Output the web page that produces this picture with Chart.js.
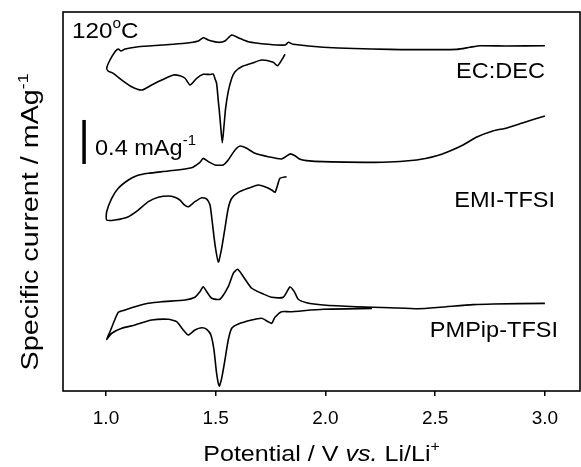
<!DOCTYPE html>
<html>
<head>
<meta charset="utf-8">
<script src="https://cdn.jsdelivr.net/npm/chart.js@4.4.0/dist/chart.umd.min.js"></script>
<style>
  html, body { margin: 0; padding: 0; background: #fff; }
  #wrap { width: 581px; height: 467px; }
</style>
</head>
<body>
<div id="wrap"><canvas id="cv" width="581" height="467"></canvas></div>
<script>
// tick labels of the potential axis
var xTicks = [1.0, 1.5, 2.0, 2.5, 3.0];

// EC:DEC  (reduction sweep from ~1.82 V down to 1.0 V, then oxidation to 3.0 V)
var ecV = [1.816,1.782,1.762,1.709,1.664,1.618,1.588,1.573,1.557,1.545,1.538,1.530,1.522,1.516,1.512,1.504,1.497,1.489,1.474,1.443,1.413,1.383,1.360,1.337,1.307,1.254,1.208,1.163,1.117,1.072,1.033,1.010,1.003,
           1.018,1.041,1.056,1.068,1.087,1.147,1.254,1.360,1.421,1.443,1.466,1.512,1.542,1.573,1.603,1.648,1.739,1.816,1.831,1.853,1.990,2.294,2.598,2.658,2.704,2.826,3.000];
var ecI = [3.061,2.957,2.988,3.009,2.979,2.948,2.903,2.843,2.721,2.570,2.418,2.257,2.418,2.555,2.630,2.797,2.836,2.882,2.877,2.879,2.843,2.782,2.843,2.866,2.873,2.827,2.782,2.736,2.766,2.827,2.888,2.909,2.934,
           3.009,3.085,3.109,3.091,3.109,3.130,3.145,3.161,3.182,3.212,3.191,3.170,3.182,3.236,3.212,3.175,3.152,3.145,3.170,3.152,3.125,3.106,3.106,3.125,3.139,3.136,3.139];

// EMI-TFSI
var emV = [1.823,1.793,1.782,1.770,1.755,1.724,1.694,1.648,1.603,1.573,1.557,1.542,1.527,1.512,1.497,1.484,1.474,1.459,1.436,1.405,1.375,1.357,1.337,1.314,1.284,1.238,1.193,1.147,1.102,1.041,1.003,
           1.003,1.026,1.056,1.102,1.140,1.193,1.284,1.390,1.428,1.443,1.466,1.497,1.534,1.557,1.588,1.611,1.641,1.679,1.739,1.800,1.838,1.861,1.884,1.914,1.990,2.263,2.416,2.503,2.567,2.627,2.690,2.763,2.827,2.901,3.000];
var emI = [1.948,1.934,1.873,1.806,1.827,1.857,1.873,1.843,1.806,1.752,1.661,1.479,1.297,1.173,1.327,1.539,1.691,1.745,1.757,1.721,1.675,1.691,1.736,1.761,1.773,1.761,1.721,1.645,1.585,1.555,1.555,
           1.630,1.752,1.843,1.918,1.957,1.979,2.000,2.030,2.079,2.115,2.085,2.055,2.055,2.100,2.191,2.227,2.206,2.161,2.130,2.109,2.155,2.139,2.106,2.094,2.085,2.079,2.100,2.136,2.182,2.236,2.309,2.364,2.391,2.439,2.500];

// PMPip-TFSI
var pmV = [2.212,1.990,1.838,1.800,1.770,1.755,1.739,1.709,1.664,1.603,1.573,1.557,1.542,1.527,1.516,1.504,1.492,1.478,1.459,1.436,1.405,1.375,1.352,1.322,1.284,1.208,1.132,1.072,1.026,1.003,
           1.018,1.041,1.056,1.087,1.132,1.193,1.254,1.360,1.405,1.428,1.443,1.459,1.482,1.519,1.557,1.580,1.600,1.626,1.664,1.717,1.755,1.808,1.838,1.858,1.876,1.914,1.990,2.142,2.294,2.423,2.522,2.673,2.765,3.000];
var pmI = [0.750,0.743,0.721,0.721,0.670,0.615,0.630,0.661,0.645,0.609,0.570,0.464,0.282,0.115,0.045,0.161,0.373,0.509,0.561,0.575,0.555,0.509,0.555,0.630,0.652,0.645,0.600,0.570,0.525,0.470,
           0.539,0.652,0.715,0.736,0.766,0.797,0.812,0.827,0.852,0.903,0.948,0.903,0.843,0.834,0.948,1.070,1.106,1.039,0.934,0.882,0.852,0.852,0.945,0.903,0.834,0.803,0.782,0.766,0.757,0.748,0.761,0.785,0.791,0.797];

// 0.4 mAg-1 scale bar
var barV = [0.90, 0.90];
var barI = [2.064, 2.464];

var FONT = '"Liberation Sans", Arial, Helvetica, sans-serif';

function pts(v, c) {
  return v.map(function (x, i) { return { x: x, y: c[i] }; });
}

function fontFor(p, size) {
  return (p.it ? 'italic ' : '') + Math.round(p.sup ? size * 0.62 : size) + 'px ' + FONT;
}

// draws text made of parts, some italic or raised; st = horizontal stretch
function richText(ctx, parts, x, y, align, size, st) {
  st = st || 1;
  var w = 0;
  parts.forEach(function (p) {
    ctx.font = fontFor(p, size);
    p.w = ctx.measureText(p.t).width;
    w += p.w;
  });
  var sx = align === 'right' ? -w : (align === 'center' ? -w / 2 : 0);
  ctx.save();
  ctx.translate(x, y);
  ctx.scale(st, 1);
  parts.forEach(function (p) {
    ctx.font = fontFor(p, size);
    ctx.fillText(p.t, sx, p.sup ? -size * 0.45 : 0);
    sx += p.w;
  });
  ctx.restore();
}

var decor = {
  id: 'decor',
  afterDraw: function (chart) {
    var ctx = chart.ctx, a = chart.chartArea;
    ctx.save();
    ctx.strokeStyle = '#000';
    ctx.lineWidth = 1.6;
    ctx.strokeRect(a.left, a.top, a.right - a.left, a.bottom - a.top);

    ctx.fillStyle = '#000';
    ctx.textBaseline = 'alphabetic';
    ctx.textAlign = 'left';
    richText(ctx, [{ t: '120' }, { t: 'o', sup: true }, { t: 'C' }], 72, 38, 'left', 22, 1.1);
    richText(ctx, [{ t: 'EC:DEC' }], 545, 78, 'right', 22, 1.07);
    richText(ctx, [{ t: 'EMI-TFSI' }], 555, 207, 'right', 22, 1.07);
    richText(ctx, [{ t: 'PMPip-TFSI' }], 558, 337, 'right', 22, 1.07);
    richText(ctx, [{ t: '0.4 mAg' }, { t: '-1', sup: true }], 95, 155, 'left', 22, 1.07);

    // axis titles
    richText(ctx, [{ t: 'Potential / V ' }, { t: 'vs.', it: true }, { t: ' Li/Li' }, { t: '+', sup: true }],
      (a.left + a.right) / 2, 461, 'center', 22, 1.14);
    ctx.translate(38, 222);
    ctx.rotate(-Math.PI / 2);
    richText(ctx, [{ t: 'Specific current / mAg' }, { t: '-1', sup: true }], 0, 0, 'center', 23, 1.25);
    ctx.restore();
  }
};

function curve(v, c, w) {
  return {
    data: pts(v, c),
    showLine: true,
    borderColor: '#000',
    borderWidth: w || 1.6,
    pointRadius: 0,
    tension: 0.2,
    fill: false
  };
}

new Chart(document.getElementById('cv').getContext('2d'), {
  type: 'scatter',
  data: {
    datasets: [
      curve(ecV, ecI),
      curve(emV, emI),
      curve(pmV, pmI),
      curve(barV, barI, 3.5)
    ]
  },
  options: {
    responsive: false,
    animation: false,
    events: [],
    layout: { padding: { top: 12, right: 1, left: 0, bottom: 0 } },
    plugins: { legend: { display: false }, tooltip: { enabled: false } },
    scales: {
      x: {
        type: 'linear',
        min: 0.804,
        max: 3.16,
        afterBuildTicks: function (s) { s.ticks = xTicks.map(function (v) { return { value: v }; }); },
        afterFit: function (s) { s.height = 76; },
        ticks: {
          color: '#000',
          font: { family: FONT, size: 19 },
          padding: 11,
          maxRotation: 0,
          autoSkip: false,
          callback: function (v) { return Number(v).toFixed(1); }
        },
        grid: { display: true, drawOnChartArea: false, drawTicks: true, tickLength: 5, color: '#000', lineWidth: 1.5 },
        border: { display: false }
      },
      y: {
        min: 0,
        max: 3.4455,
        afterFit: function (s) { s.width = 63; },
        ticks: { display: false },
        grid: { display: false },
        border: { display: false }
      }
    }
  },
  plugins: [decor]
});
</script>
</body>
</html>
